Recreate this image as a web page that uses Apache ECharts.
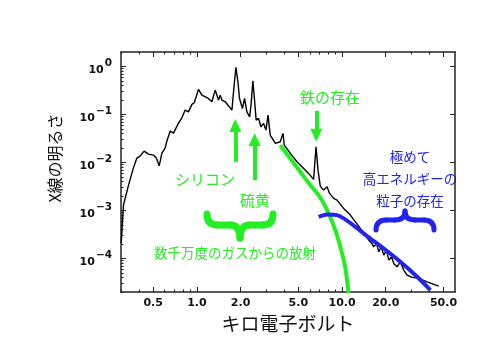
<!DOCTYPE html>
<html>
<head>
<meta charset="utf-8">
<script src="https://cdn.jsdelivr.net/npm/echarts@6/dist/echarts.min.js"></script>
<style>
  html, body { margin: 0; padding: 0; background: #fff; }
  #chart { width: 500px; height: 354px; }
</style>
</head>
<body>
<div id="chart"></div>
<script>
// observed spectrum (keV, brightness)
const spectrumE = [0.301, 0.312, 0.338, 0.365, 0.386, 0.406, 0.433, 0.464, 0.502, 0.524, 0.550, 0.574, 0.604, 0.621, 0.655, 0.690, 0.747, 0.788, 0.830, 0.875, 0.924, 0.958, 0.989, 1.026, 1.082, 1.183, 1.268, 1.337, 1.409, 1.448, 1.487, 1.567, 1.743, 1.788, 1.857, 1.917, 1.966, 2.01, 2.06, 2.13, 2.21, 2.31, 2.36, 2.43, 2.49, 2.56, 2.66, 2.76, 2.88, 2.99, 3.09, 3.20, 3.47, 3.75, 3.92, 4.00, 4.40, 4.89, 5.44, 5.88, 6.37, 6.62, 6.83, 7.08, 7.46, 7.88, 8.21, 8.75, 9.24, 10.26, 11.4, 12.36, 13.37, 14.48, 15.25, 16.1, 16.5, 17.3, 17.9, 18.6, 19.4, 20.2, 21.0, 21.9, 22.7, 23.9, 25.2, 26.6, 28.1, 30.4, 33.8, 38.5, 46.4];
const spectrumF = [2.08e-4, 1.29e-3, 3.36e-3, 7.6e-3, 1.23e-2, 1.35e-2, 1.72e-2, 1.49e-2, 1.42e-2, 1.25e-2, 8.5e-3, 1.56e-2, 1.99e-2, 2.78e-2, 4.5e-2, 4.08e-2, 6.59e-2, 8.5e-2, 0.123, 0.113, 0.162, 0.175, 0.233, 0.332, 0.252, 0.222, 0.183, 0.321, 0.199, 0.252, 0.199, 0.183, 0.123, 0.296, 0.953, 0.478, 0.215, 0.233, 0.133, 0.215, 0.113, 8.9e-2, 0.156, 0.501, 0.215, 7.6e-2, 8.26e-2, 5.52e-2, 6.49e-2, 4.71e-2, 9.67e-2, 3.7e-2, 2.49e-2, 2.69e-2, 4.02e-2, 2.29e-2, 1.54e-2, 1.03e-2, 7.5e-3, 5.9e-3, 4.42e-3, 2.11e-2, 6.9e-3, 3.21e-3, 2.65e-3, 3.1e-3, 2.26e-3, 1.78e-3, 1.64e-3, 1.10e-3, 7.98e-4, 5.78e-4, 4.22e-4, 3.05e-4, 2.41e-4, 2.05e-4, 1.74e-4, 2.05e-4, 1.37e-4, 1.74e-4, 1.17e-4, 1.49e-4, 9.2e-5, 1.08e-4, 7.87e-5, 6.68e-5, 8.5e-5, 5.7e-5, 4.49e-5, 4.02e-5, 3.83e-5, 3.25e-5, 2.65e-5];

// hot gas model (green)
const thermalE = [3.75, 5.15, 6.04, 7.08, 8.09, 8.99, 9.73, 10.5, 11.1];
const thermalF = [2.29e-2, 6.37e-3, 3.37e-3, 1.85e-3, 8.66e-4, 3.89e-4, 1.74e-4, 6.68e-5, 1.9e-5];

// high energy particles (blue)
const powerE = [6.90, 7.88, 9.24, 10.26, 12.36, 14.86, 19.4, 25.2, 32.9, 40.6];
const powerF = [7.36e-4, 8.26e-4, 7.98e-4, 6.81e-4, 4.55e-4, 2.92e-4, 1.61e-4, 8.5e-5, 4.14e-5, 2.19e-5];

// line arrows: energy, tail, head
const arrowE = [1.84, 2.50, 6.65];
const arrowFrom = [0.0103, 0.00428, 0.119];
const arrowTo = [0.0585, 0.0299, 0.0367];

const xTicks = [0.5, 1, 2, 5, 10, 20, 50];
const xMinorTicks = [0.3, 0.4, 0.6, 0.7, 0.8, 0.9, 3, 4, 6, 7, 8, 9, 30, 40];
const yPowers = [0, -1, -2, -3, -4];

const GREEN = '#22ee22';
const BLUE = '#2323f0';
const AXIS = '#222';
const JP = '"Noto Sans CJK JP", sans-serif';
const NUM = '"DejaVu Sans", sans-serif';

const lg = Math.log10;
const toLog = (xs, ys) => xs.map((x, i) => [lg(x), lg(ys[i])]);

const xMin = lg(0.3), xMax = lg(60);
const yMin = -4.7, yMax = 0.3;

const yMinor = [];
for (let k = -5; k <= 0; k++) {
  for (let m = 2; m <= 9; m++) {
    const v = lg(m) + k;
    if (v > yMin && v < yMax) yMinor.push(v);
  }
}

function xAxisBase(pos, ticks, len, line) {
  return {
    type: 'value', position: pos, min: xMin, max: xMax,
    axisLine: { show: line, onZero: false, lineStyle: { color: AXIS, width: 1.5 } },
    axisTick: { inside: true, length: len, customValues: ticks, lineStyle: { color: AXIS } },
    axisLabel: { show: false },
    splitLine: { show: false }
  };
}
function yAxisBase(pos, ticks, len, line) {
  return {
    type: 'value', position: pos, min: yMin, max: yMax,
    axisLine: { show: line, onZero: false, lineStyle: { color: AXIS, width: 1.5 } },
    axisTick: { inside: true, length: len, customValues: ticks, lineStyle: { color: AXIS } },
    axisLabel: { show: false },
    splitLine: { show: false }
  };
}

const mainX = xAxisBase('bottom', xTicks.map(lg), 5, true);
mainX.axisLabel = {
  show: true, customValues: xTicks.map(lg), margin: 6,
  formatter: (v) => Math.pow(10, v).toFixed(1),
  fontFamily: NUM, fontWeight: 'bold', fontSize: 11, color: '#111'
};
mainX.name = 'キロ電子ボルト';
mainX.nameLocation = 'middle';
mainX.nameGap = 21;
mainX.nameTextStyle = { fontFamily: JP, fontSize: 19, color: '#111' };

const mainY = yAxisBase('left', yPowers, 5, true);
mainY.axisLabel = {
  show: true, customValues: yPowers, margin: 9,
  formatter: (v) => {
    const p = Math.round(v);
    return '{b|10}{s|' + (p === 0 ? '0' : '\u2212' + (-p)) + '}';
  },
  rich: {
    b: { fontFamily: NUM, fontWeight: 'bold', fontSize: 11, color: '#111', lineHeight: 18, verticalAlign: 'bottom' },
    s: { fontFamily: NUM, fontWeight: 'bold', fontSize: 10.5, color: '#111', lineHeight: 10, verticalAlign: 'top', padding: [0, 0, 0, 1] }
  }
};

const arrowLines = arrowE.map((e, i) => [
  { coord: [lg(e), lg(arrowFrom[i])] },
  { coord: [lg(e), lg(arrowTo[i])] }
]);

// brace made of quadratic curves and straight pieces
function brace(x0, x1, yEnd, yMid, yTip, color, width) {
  const xm = (x0 + x1) / 2;
  const r = 10;
  const style = { stroke: color, lineWidth: width, fill: null, lineCap: 'round' };
  return {
    type: 'group',
    children: [
      { type: 'bezierCurve', shape: { x1: x0, y1: yEnd, cpx1: x0, cpy1: yMid, x2: x0 + r, y2: yMid }, style },
      { type: 'line', shape: { x1: x0 + r, y1: yMid, x2: xm - r, y2: yMid }, style },
      { type: 'bezierCurve', shape: { x1: xm - r, y1: yMid, cpx1: xm, cpy1: yMid, x2: xm, y2: yTip }, style },
      { type: 'bezierCurve', shape: { x1: xm, y1: yTip, cpx1: xm, cpy1: yMid, x2: xm + r, y2: yMid }, style },
      { type: 'line', shape: { x1: xm + r, y1: yMid, x2: x1 - r, y2: yMid }, style },
      { type: 'bezierCurve', shape: { x1: x1 - r, y1: yMid, cpx1: x1, cpy1: yMid, x2: x1, y2: yEnd }, style }
    ]
  };
}

function label(text, x, y, size, color, rot) {
  return {
    type: 'text', x: x, y: y, rotation: rot || 0,
    style: { text: text, font: size + 'px ' + JP, fill: color, align: 'center', verticalAlign: 'middle' }
  };
}

const option = {
  animation: false,
  grid: { left: 121, right: 45, top: 52, bottom: 62 },
  xAxis: [
    mainX,
    xAxisBase('bottom', xMinorTicks.map(lg), 2.5, false),
    xAxisBase('top', xTicks.map(lg), 5, true),
    xAxisBase('top', xMinorTicks.map(lg), 2.5, false)
  ],
  yAxis: [
    mainY,
    yAxisBase('left', yMinor, 2.5, false),
    yAxisBase('right', yPowers, 5, true)
  ],
  series: [
    {
      name: 'spectrum', type: 'line', showSymbol: false, z: 3,
      data: toLog(spectrumE, spectrumF),
      lineStyle: { color: '#000', width: 1.4 }
    },
    {
      name: 'thermal', type: 'line', showSymbol: false, z: 4,
      data: toLog(thermalE, thermalF), smooth: 0.3,
      lineStyle: { color: GREEN, width: 4 }
    },
    {
      name: 'particles', type: 'line', showSymbol: false, z: 4,
      data: toLog(powerE, powerF), smooth: 0.3,
      lineStyle: { color: BLUE, width: 4 }
    },
    {
      name: 'arrows', type: 'line', data: [], z: 5,
      markLine: {
        silent: true, animation: false,
        symbol: ['none', 'triangle'], symbolSize: [12, 13],
        label: { show: false },
        lineStyle: { color: GREEN, width: 4, type: 'solid' },
        data: arrowLines
      }
    }
  ],
  graphic: [
    label('X線の明るさ', 55, 158, 16, '#111', Math.PI / 2),
    label('シリコン', 205, 179, 15, GREEN),
    label('硫黄', 255, 200, 15, GREEN),
    label('鉄の存在', 330, 97, 15, GREEN),
    label('数千万度のガスからの放射', 235, 253, 13.5, GREEN),
    label('極めて', 410, 157, 13.5, BLUE),
    label('高エネルギーの', 410, 179, 13.5, BLUE),
    label('粒子の存在', 410, 201, 13.5, BLUE),
    brace(207, 273, 214, 225, 238, GREEN, 7),
    brace(376, 434, 230, 220, 211, BLUE, 5)
  ]
};

const chart = echarts.init(document.getElementById('chart'));
chart.setOption(option);
</script>
</body>
</html>
